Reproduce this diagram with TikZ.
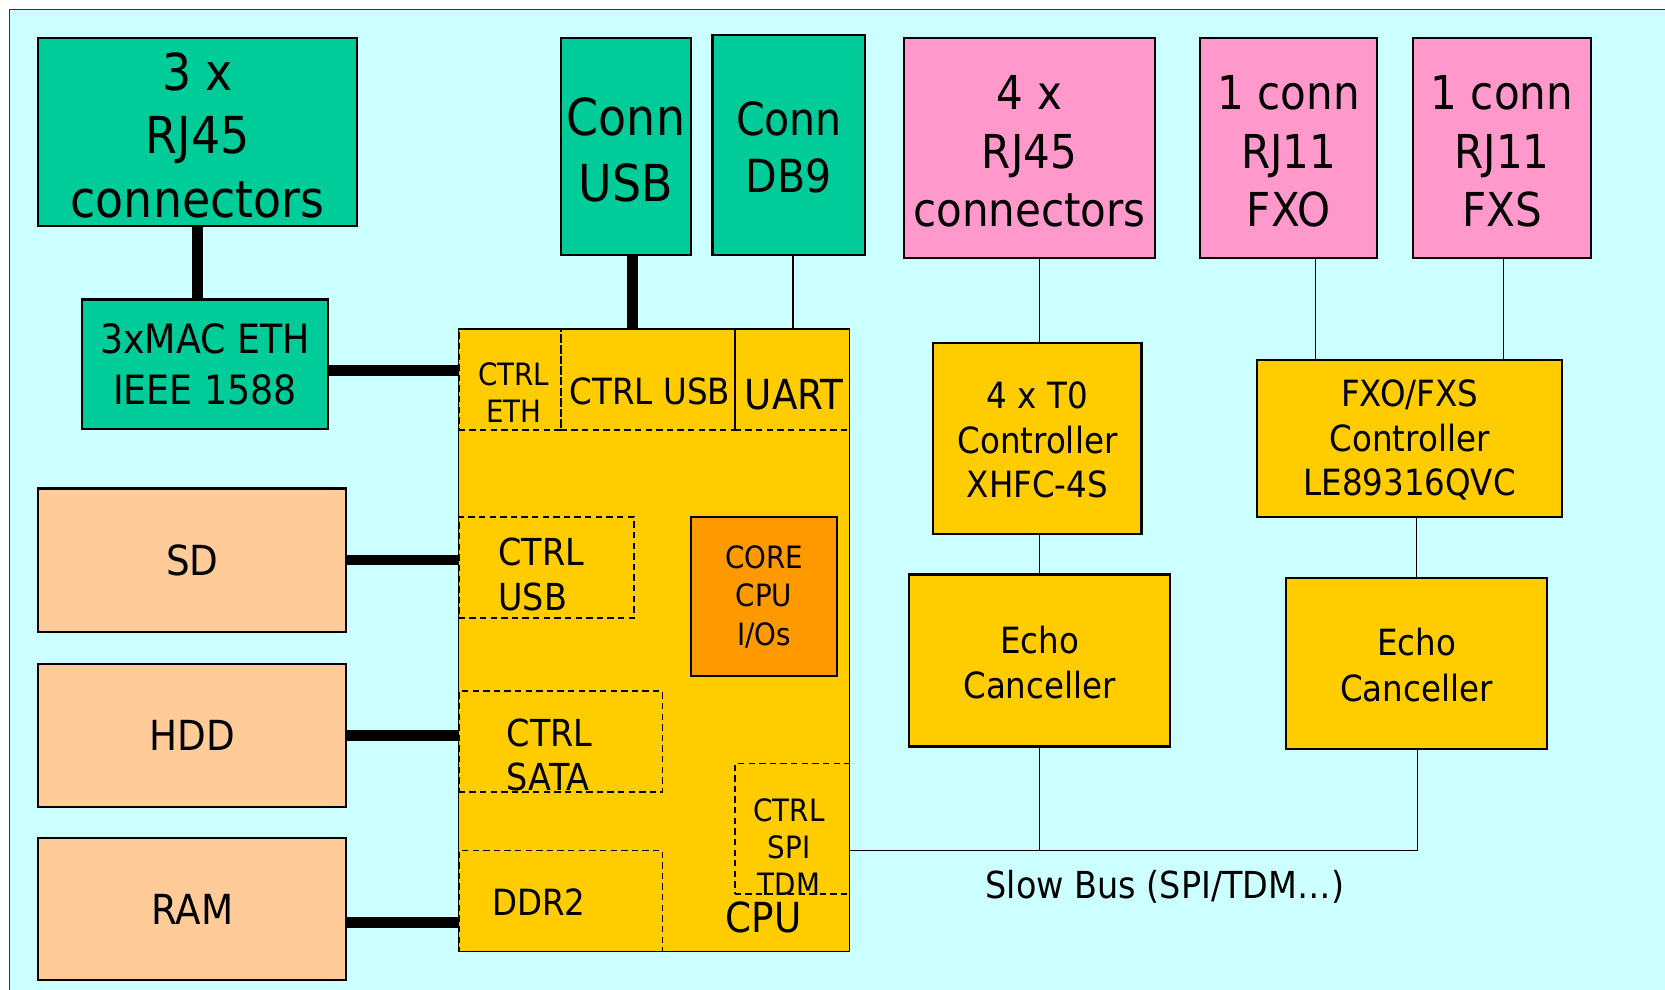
\documentclass[tikz,border=0pt]{standalone}
\usepackage{fontspec}
\setmainfont{DejaVu Sans}[FakeStretch=0.9]
\usetikzlibrary{fit}
\newcommand{\myfs}[2]{\fontsize{#1}{#2}\selectfont}
\definecolor{bgcyan}{HTML}{CCFFFF}
\definecolor{tealc}{HTML}{00CC99}
\definecolor{pinkc}{HTML}{FF99CC}
\definecolor{yelc}{HTML}{FFCC00}
\definecolor{orac}{HTML}{FF9900}
\definecolor{peachc}{HTML}{FFCC99}
\tikzset{
  box/.style={draw=black, line width=1pt, inner sep=0pt},
  tealbox/.style={box, fill=tealc},
  pinkbox/.style={box, fill=pinkc},
  yelbox/.style={box, fill=yelc},
  peachbox/.style={box, fill=peachc},
  orabox/.style={box, fill=orac},
  dbox/.style={draw=black, line width=0.8pt, dash pattern=on 3pt off 2pt, inner sep=0pt},
  lbl/.style={inner sep=0pt, align=center},
  lbll/.style={inner sep=0pt, align=left, anchor=west},
  thickline/.style={draw=black, line width=5pt},
  thinline/.style={draw=black, line width=0.7pt},
}
\begin{document}
\begin{tikzpicture}[x=0.5pt,y=-0.5pt]
\useasboundingbox (0,0) rectangle (1568,932);
\clip (0,0) rectangle (1568,932);
\fill[white] (0,0) rectangle (1568,932);
\draw[fill=bgcyan, draw=black!80, line width=0.8pt] (9,9) rectangle (1600,960);

% top-left group
\node[tealbox, fit={(36,36)(336,213)}] (rj3) {};
\node[lbl, font=\myfs{24}{30}] (rj3t) at ([yshift=-1.5pt]rj3.center) {3 x\\RJ45\\connectors};
\node[tealbox, fit={(77,282)(309,404)}] (mac) {};
\node[lbl, font=\myfs{19}{24}] (mact) at (mac.center) {3xMAC ETH\\IEEE 1588};
\node[tealbox, fit={(528,36)(651,240)}] (usb) {};
\node[lbl, font=\myfs{24}{31}] (usbt) at ([yshift=-1.5pt]usb.center) {Conn\\USB};
\node[tealbox, fit={(671,33)(815,240)}] (db9) {};
\node[lbl, font=\myfs{21.5}{27}] (db9t) at ([yshift=-1pt]db9.center) {Conn\\DB9};

% pink connectors
\node[pinkbox, fit={(851,36)(1088,243)}] (rj4) {};
\node[lbl, font=\myfs{22}{27.5}] (rj4t) at ([yshift=-1.5pt]rj4.center) {4 x\\RJ45\\connectors};
\node[pinkbox, fit={(1130,36)(1297,243)}] (fxo) {};
\node[lbl, font=\myfs{22}{27.5}] (fxot) at ([yshift=-1.5pt]fxo.center) {1 conn\\RJ11\\FXO};
\node[pinkbox, fit={(1331,36)(1498,243)}] (fxs) {};
\node[lbl, font=\myfs{22}{27.5}] (fxst) at ([yshift=-1.5pt]fxs.center) {1 conn\\RJ11\\FXS};

% storage
\node[peachbox, fit={(36,460)(326,595)}] (sd) {};
\node[lbl, font=\myfs{19.5}{24}] (sdt) at (sd.center) {SD};
\node[peachbox, fit={(36,625)(326,760)}] (hdd) {};
\node[lbl, font=\myfs{19.5}{24}] (hddt) at (hdd.center) {HDD};
\node[peachbox, fit={(36,789)(326,923)}] (ram) {};
\node[lbl, font=\myfs{19.5}{24}] (ramt) at (ram.center) {RAM};

% CPU
\node[yelbox, line width=0.7pt, fit={(432,310)(800,896)}] (cpu) {};
\node[dbox, fit={(432,310)(528,405)}] (ceth) {};
\node[dbox, fit={(528,310)(692,405)}] (cusb1) {};
\node[dbox, fit={(692,310)(800,405)}] (uart) {};
\node[dbox, fit={(432,487)(597,582)}] (cusb2) {};
\node[dbox, fit={(432,651)(624,746)}] (csata) {};
\node[dbox, fit={(692,719)(800,842)}] (cspi) {};
\node[dbox, fit={(432,801)(624,896)}] (ddr) {};
\node[orabox, fit={(651,487)(788,637)}] (core) {};
\node[lbl, font=\myfs{14.5}{18}] (coret) at (core.center) {CORE\\CPU\\I/Os};

\node[lbl, font=\myfs{14.5}{17.5}] (tceth) at (484,369.5) {CTRL\\ETH};
\node[lbl, font=\myfs{17}{21}] (tcusb1) at (612,369) {CTRL USB};
\node[lbl, font=\myfs{19.5}{24}] (tuart) at (748,372) {UART};
\node[lbll, font=\myfs{17.5}{21}] (tcusb2) at (469,541) {CTRL\\USB};
\node[lbll, font=\myfs{17.5}{21}] (tcsata) at (477,711) {CTRL\\SATA};
\node[lbl, font=\myfs{14.5}{17.5}] (tcspi) at (743,798) {CTRL\\SPI\\TDM};
\node[lbll, font=\myfs{17}{21}] (tddr) at (463,850) {DDR2};
\node[lbl, font=\myfs{19.5}{24}] (tcpu) at (719,864) {CPU};

% telephony
\node[yelbox, fit={(879,323)(1075,503)}] (t0) {};
\node[lbl, font=\myfs{17}{21}] (t0t) at ([yshift=-0.75pt]t0.center) {4 x T0\\Controller\\XHFC-4S};
\node[yelbox, fit={(1184,339)(1471,487)}] (fxc) {};
\node[lbl, font=\myfs{17}{21}] (fxct) at ([yshift=-0.75pt]fxc.center) {FXO/FXS\\Controller\\LE89316QVC};
\node[yelbox, fit={(856,541)(1102,703)}] (echo1) {};
\node[lbl, font=\myfs{17}{21.5}] (echo1t) at ([yshift=-1pt]echo1.center) {Echo\\Canceller};
\node[yelbox, fit={(1211,544)(1457,705)}] (echo2) {};
\node[lbl, font=\myfs{17}{21.5}] (echo2t) at ([yshift=-1pt]echo2.center) {Echo\\Canceller};

% connectors
\draw[thickline] (rj3.south) -- (rj3.south |- mac.north);
\draw[thickline] ([yshift=-3pt]mac.east) -- ([yshift=-3pt]mac.east -| cpu.west);
\draw[thickline] ([xshift=3pt]usb.south) -- ([xshift=3pt]usb.south |- cpu.north);
\draw[thinline] ([xshift=2pt]db9.south) -- ([xshift=2pt]db9.south |- cpu.north);
\draw[thickline] (sd.east) -- (sd.east -| cpu.west);
\draw[thickline] (hdd.east) -- (hdd.east -| cpu.west);
\draw[thickline] ([yshift=-6.5pt]ram.east) -- ([yshift=-6.5pt]ram.east -| cpu.west);

\draw[thinline] ([xshift=1pt]t0.north |- rj4.south) -- ([xshift=1pt]t0.north);
\draw[thinline] ([xshift=12.75pt]fxo.south) -- ([xshift=12.75pt]fxo.south |- fxc.north);
\draw[thinline] ([xshift=0.75pt]fxs.south) -- ([xshift=0.75pt]fxs.south |- fxc.north);
\draw[thinline] (echo1.north |- t0.south) -- (echo1.north);
\draw[thinline] (echo2.north |- fxc.south) -- (echo2.north);

\coordinate (busend) at (1335,801);
\draw[thinline] (cspi.east |- busend) -- (busend) -- (busend |- echo2.south);
\draw[thinline] (echo1.south) -- (echo1.south |- busend);
\node[lbl, font=\myfs{17.5}{21}] (buslbl) at (1097,835) {Slow Bus (SPI/TDM…)};
\end{tikzpicture}
\end{document}
